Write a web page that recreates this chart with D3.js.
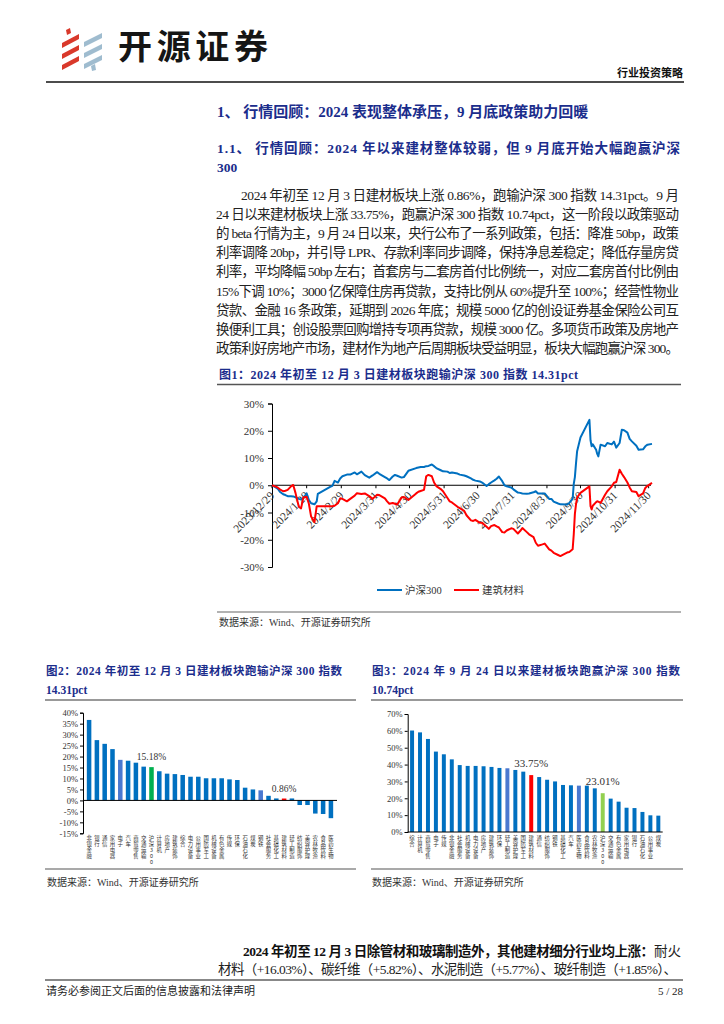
<!DOCTYPE html>
<html><head><meta charset="utf-8">
<script src="https://cdn.jsdelivr.net/npm/d3@7"></script>
<style>
html,body{margin:0;padding:0;background:#fff;}
svg{display:block;}
</style></head>
<body>
<svg id="page" width="724" height="1024"></svg>
<script>
// ---------- Figure 1 data (cumulative return since 2023-12-29, %) ----------
const dates1 = [
 "2023-12-29","2024-01-03","2024-01-05","2024-01-08","2024-01-10","2024-01-12","2024-01-15","2024-01-17","2024-01-19","2024-01-22","2024-01-24","2024-01-26","2024-01-29","2024-01-31",
 "2024-02-02","2024-02-05","2024-02-07","2024-02-08","2024-02-19","2024-02-21","2024-02-23","2024-02-26","2024-02-28",
 "2024-03-01","2024-03-05","2024-03-08","2024-03-12","2024-03-14","2024-03-18","2024-03-21","2024-03-25","2024-03-28",
 "2024-04-01","2024-04-03","2024-04-08","2024-04-10","2024-04-12","2024-04-15","2024-04-17","2024-04-19","2024-04-23","2024-04-25","2024-04-29",
 "2024-05-06","2024-05-08","2024-05-10","2024-05-13","2024-05-15","2024-05-17","2024-05-20","2024-05-22","2024-05-24","2024-05-28","2024-05-30",
 "2024-06-03","2024-06-05","2024-06-07","2024-06-12","2024-06-14","2024-06-18","2024-06-20","2024-06-24","2024-06-26","2024-06-28",
 "2024-07-02","2024-07-04","2024-07-08","2024-07-10","2024-07-12","2024-07-15","2024-07-17","2024-07-19","2024-07-22","2024-07-24","2024-07-26","2024-07-30",
 "2024-08-01","2024-08-05","2024-08-07","2024-08-09","2024-08-13","2024-08-15","2024-08-19","2024-08-21","2024-08-23","2024-08-27","2024-08-29",
 "2024-09-02","2024-09-04","2024-09-06","2024-09-10","2024-09-12","2024-09-18","2024-09-20","2024-09-23","2024-09-24","2024-09-25","2024-09-26","2024-09-27","2024-09-30",
 "2024-10-08","2024-10-09","2024-10-10","2024-10-11","2024-10-14","2024-10-15","2024-10-16","2024-10-18","2024-10-22","2024-10-24","2024-10-28","2024-10-30",
 "2024-11-01","2024-11-04","2024-11-06","2024-11-08","2024-11-11","2024-11-13","2024-11-15","2024-11-19","2024-11-21","2024-11-25","2024-11-27","2024-11-29",
 "2024-12-03"
];
const hs300 = [
 0,-1.2,-2.4,-3.3,-3.6,-4.0,-4.0,-4.1,-4.4,-5.0,-5.2,-4.8,-3.0,-5.4,
 -6.6,-7.0,-5.9,-3.2,-0.6,-0.2,1.6,1.0,2.5,
 3.3,3.9,3.9,4.7,4.0,5.0,3.7,2.8,3.6,
 4.8,4.2,3.0,2.5,1.9,3.2,3.8,3.5,2.8,3.0,5.3,
 6.3,6.5,6.7,6.7,7.0,7.1,7.6,7.0,6.3,5.5,5.1,
 5.0,4.5,4.7,4.3,3.9,3.6,3.3,2.5,2.0,1.7,
 1.4,1.0,-0.3,0.4,1.0,1.8,2.4,3.2,1.5,0.0,-0.4,-0.8,
 -1.5,-2.7,-2.8,-3.0,-3.1,-3.0,-2.6,-2.2,-3.0,-3.0,-3.0,
 -5.0,-5.0,-6.0,-6.7,-7.0,-7.1,-6.5,-5.0,0.5,3.0,8.0,12.5,17.5,
 24.0,16.5,14.3,15.0,13.0,11.5,10.6,14.9,14.3,15.5,15.0,16.0,
 13.8,15.5,20.4,20.2,19.3,17.0,16.1,14.5,13.0,13.2,14.3,14.9,
 15.18
];
const buildMat = [
 0,-0.8,-1.5,-2.2,-2.0,-1.7,-0.4,0.1,-2.8,-7.9,-8.5,-4.5,-4.2,-6.8,
 -11.5,-13.5,-7.7,-7.7,-7.7,-7.7,-7.5,-6.6,-4.8,
 -5.0,-5.9,-5.0,-3.8,-2.9,-3.2,-3.0,-4.0,-5.0,
 -3.5,-3.6,-4.8,-5.9,-6.8,-6.5,-6.8,-7.1,-4.5,-4.3,-5.4,
 -3.0,-2.4,-2.1,-1.7,3.3,3.8,3.3,1.0,-0.3,-1.4,-2.2,
 -4.7,-5.9,-6.3,-7.9,-8.4,-9.4,-11.0,-12.9,-13.1,-12.7,
 -13.8,-13.8,-15.2,-16.0,-15.0,-14.6,-15.1,-15.5,-17.2,-17.3,-16.6,-15.8,
 -16.0,-17.7,-16.8,-15.7,-17.2,-18.0,-19.0,-21.1,-22.2,-21.7,-21.4,
 -23.5,-24.0,-24.8,-25.6,-26.0,-24.7,-24.5,-23.5,-18.0,-10.5,-7.0,-4.5,-2.8,
 -0.4,-7.7,-8.9,-7.5,-6.2,-5.9,-6.0,-6.5,-3.5,-2.2,-0.4,0.9,
 1.2,5.7,4.2,3.0,1.0,-0.8,-2.2,-2.5,-4.0,-3.0,-1.0,-0.2,
 0.86
];
const seriesNames1 = ["沪深300","建筑材料"];
const yTicks1 = [30,20,10,0,-10,-20,-30];
const xTickDates1 = ["2023-12-29","2024-01-29","2024-02-29","2024-03-31","2024-04-30","2024-05-31","2024-06-30","2024-07-31","2024-08-31","2024-09-30","2024-10-31","2024-11-30"];
const xTickLabels1 = ["2023/12/29","2024/1/29","2024/2/29","2024/3/31","2024/4/30","2024/5/31","2024/6/30","2024/7/31","2024/8/31","2024/9/30","2024/10/31","2024/11/30"];

// ---------- Figure 2 data (2024 YTD to Dec 3, %) ----------
const cats2 = ["非银金融","银行","通信","家用电器","电子","汽车","商贸零售","交通运输","沪深300","计算机","房地产","建筑装饰","综合","电力设备","公用事业","国防军工","机械设备","有色金属","传媒","环保","石油石化","煤炭","钢铁","社会服务","基础化工","建筑材料","轻工制造","纺织服饰","美容护理","农林牧渔","食品饮料","医药生物"];
const vals2 = [36.7,27.5,25.8,23.4,18.5,18.1,17.2,15.4,15.18,13.3,12.2,12.0,11.6,10.8,10.8,10.1,10.1,10.1,9.6,9.3,5.8,5.0,4.6,2.1,0.9,0.86,0.9,-2.1,-2.1,-6.0,-6.2,-8.1];
const yTicks2 = [40,35,30,25,20,15,10,5,0,-5,-10,-15];
const alt2 = ["电子","钢铁"];

// ---------- Figure 3 data (since Sep 24, %) ----------
const cats3 = ["综合","计算机","商贸零售","电子","传媒","非银金融","社会服务","机械设备","电力设备","房地产","建筑装饰","环保","轻工制造","美容护理","国防军工","建筑材料","通信","纺织服饰","钢铁","基础化工","汽车","医药生物","食品饮料","农林牧渔","沪深300","交通运输","有色金属","家用电器","银行","石油石化","公用事业","煤炭"];
const vals3 = [60.2,59.1,55.2,47.7,46.1,43.1,39.7,39.2,39.2,39.0,38.6,38.0,37.8,36.8,35.8,33.75,32.6,31.0,30.0,27.9,27.7,27.5,27.5,25.9,23.01,19.8,18.0,14.4,14.2,11.9,9.9,9.7];
const yTicks3 = [70,60,50,40,30,20,10,0];
const alt3 = ["轻工制造","医药生物"];

// ---------- page text ----------
const paraLines = [
 "2024 年初至 12 月 3 日建材板块上涨 0.86%，跑输沪深 300 指数 14.31pct。9 月",
 "24 日以来建材板块上涨 33.75%，跑赢沪深 300 指数 10.74pct，这一阶段以政策驱动",
 "的 beta 行情为主，9 月 24 日以来，央行公布了一系列政策，包括：降准 50bp，政策",
 "利率调降 20bp，并引导 LPR、存款利率同步调降，保持净息差稳定；降低存量房贷",
 "利率，平均降幅 50bp 左右；首套房与二套房首付比例统一，对应二套房首付比例由",
 "15%下调 10%；3000 亿保障住房再贷款，支持比例从 60%提升至 100%；经营性物业",
 "贷款、金融 16 条政策，延期到 2026 年底；规模 5000 亿的创设证券基金保险公司互",
 "换便利工具；创设股票回购增持专项再贷款，规模 3000 亿。多项货币政策及房地产",
 "政策利好房地产市场，建材作为地产后周期板块受益明显，板块大幅跑赢沪深 300。"
];

const svg = d3.select("#page");
const SERIF = "'Liberation Serif','Noto Sans CJK SC',serif";
const SANS = "'Noto Sans CJK SC','Liberation Sans',sans-serif";
const NAVY = "#1b2d8c";
const TXT = "#222";

svg.append("rect").attr("width",724).attr("height",1024).attr("fill","#fff");

function txt(x, y, s, o = {}) {
  const t = svg.append("text").attr("x", x).attr("y", y).text(s)
    .attr("font-family", o.family || SERIF)
    .attr("font-size", o.size || 14)
    .attr("font-weight", o.weight || "normal")
    .attr("fill", o.fill || TXT)
    .attr("text-anchor", o.anchor || "start");
  if (o.len) t.attr("textLength", o.len).attr("lengthAdjust", "spacing");
  return t;
}

// ---------- header ----------
const logo = svg.append("g");
const red = "#d9392b", lblue = "#9fbccf";
[34,45,56].forEach(y=>{
  logo.append("path").attr("d",`M62,${y+9} L79,${y} L79,${y+5} L62,${y+14} Z`).attr("fill",red);
});
logo.append("path").attr("d","M66,30 L70,28 L71,33 L67,35 Z").attr("fill",red);
[33,44,55].forEach(y=>{
  logo.append("path").attr("d",`M84,${y+9} L102,${y} L102,${y+5} L84,${y+14} Z`).attr("fill",lblue);
});
logo.append("path").attr("d","M91,66 L95,64 L96,70 L92,71 Z").attr("fill",lblue);

txt(118, 59, "开源证券", {family: SANS, size: 34, weight: 700, fill: "#151515", len: 150});
txt(683, 77, "行业投资策略", {family: SANS, size: 11, weight: 700, fill: "#111", anchor: "end"});
svg.append("line").attr("x1",46).attr("x2",684).attr("y1",82).attr("y2",82).attr("stroke","#111").attr("stroke-width",1.3);

// ---------- headings & paragraph ----------
txt(217, 117, "1、 行情回顾：2024 表现整体承压，9 月底政策助力回暖", {size: 15, weight: 700, fill: NAVY});
txt(217, 153, "1.1、 行情回顾：2024 年以来建材整体较弱，但 9 月底开始大幅跑赢沪深", {size: 13.5, weight: 700, fill: NAVY, len: 463});
txt(217, 172, "300", {size: 13.5, weight: 700, fill: NAVY});

paraLines.forEach((s, i) => {
  const x0 = i === 0 ? 241 : 216;
  txt(x0, 200 + i * 19.1, s, {size: 13.5, len: 679 - x0});
});

// ---------- Figure 1 ----------
txt(219, 379, "图1：2024 年初至 12 月 3 日建材板块跑输沪深 300 指数 14.31pct", {size: 12, weight: 700, fill: NAVY, len: 359});
svg.append("line").attr("x1",217).attr("x2",681).attr("y1",384.5).attr("y2",384.5).attr("stroke","#555").attr("stroke-width",1.5);

const parse = d3.timeParse("%Y-%m-%d");
const x1 = d3.scaleTime().domain([parse(dates1[0]), parse(dates1[dates1.length-1])]).range([272, 652]);
const y1 = d3.scaleLinear().domain([-30, 30]).range([567, 403.5]);

const g1 = svg.append("g");
const yAx1 = g1.append("g").attr("transform","translate(272,0)")
  .call(d3.axisLeft(y1).tickValues(yTicks1).tickFormat(d => d + "%").tickSize(4).tickPadding(4));
yAx1.selectAll("text").attr("font-family", SERIF).attr("font-size", 11).attr("fill", "#333");
yAx1.selectAll("line,path").attr("stroke", "#000");

g1.append("line").attr("x1",272).attr("x2",651).attr("y1",y1(0)).attr("y2",y1(0)).attr("stroke","#000").attr("stroke-width",1);
xTickDates1.forEach((ds, i) => {
  const xx = x1(parse(ds));
  g1.append("line").attr("x1",xx).attr("x2",xx).attr("y1",y1(0)).attr("y2",y1(0)+3).attr("stroke","#000");
  g1.append("text").attr("transform",`translate(${xx+3},${y1(0)+11}) rotate(-45)`)
    .attr("text-anchor","end").attr("font-family",SERIF).attr("font-size",11.5).attr("fill","#333")
    .text(xTickLabels1[i]);
});

const line1 = d3.line().x(d => x1(d[0])).y(d => y1(d[1]));
const s1 = dates1.map((d,i)=>[parse(d), hs300[i]]);
const s2 = dates1.map((d,i)=>[parse(d), buildMat[i]]);
g1.append("path").datum(s1).attr("d", line1).attr("fill","none").attr("stroke","#0070C0").attr("stroke-width",2).attr("stroke-linejoin","round");
g1.append("path").datum(s2).attr("d", line1).attr("fill","none").attr("stroke","#FF0000").attr("stroke-width",2).attr("stroke-linejoin","round");

// legend
[[377, "#0070C0", seriesNames1[0]], [454, "#FF0000", seriesNames1[1]]].forEach(([lx, c, name]) => {
  g1.append("line").attr("x1",lx).attr("x2",lx+25).attr("y1",590).attr("y2",590).attr("stroke",c).attr("stroke-width",2);
  g1.append("text").attr("x",lx+28).attr("y",594).attr("font-family",SERIF).attr("font-size",10.5).attr("fill","#333").text(name);
});

svg.append("line").attr("x1",217).attr("x2",681).attr("y1",612).attr("y2",612).attr("stroke","#666").attr("stroke-width",1.2);
txt(219, 626, "数据来源：Wind、开源证券研究所", {size: 10, fill: "#333"});

// ---------- bar charts ----------
function barChart(cfg) {
  const g = svg.append("g");
  const x = d3.scaleBand().domain(cfg.cats).range([cfg.x0, cfg.x1]).paddingInner(cfg.pi).paddingOuter(cfg.po);
  const y = d3.scaleLinear().domain(cfg.ydom).range(cfg.yrange);
  const ax = g.append("g").attr("transform",`translate(${cfg.x0},0)`)
    .call(d3.axisLeft(y).tickValues(cfg.ticks).tickFormat(d => d + "%").tickSize(3).tickPadding(2));
  ax.selectAll("text").attr("font-family", SERIF).attr("font-size", 8.5).attr("fill", "#333");
  ax.selectAll("line,path").attr("stroke", "#000");
  g.selectAll("rect.bar").data(cfg.cats).enter().append("rect")
    .attr("x", d => x(d)).attr("width", x.bandwidth())
    .attr("y", (d,i) => y(Math.max(0, cfg.vals[i])))
    .attr("height", (d,i) => Math.abs(y(cfg.vals[i]) - y(0)))
    .attr("fill", d => d === "沪深300" ? cfg.hsColor : d === "建筑材料" ? "#FF0000" : cfg.alt.includes(d) ? "#4A78D0" : "#0070C0");
  g.append("line").attr("x1",cfg.x0).attr("x2",cfg.x1).attr("y1",y(0)).attr("y2",y(0)).attr("stroke","#000");
  // stacked (one character per row) category labels
  cfg.cats.forEach(c => {
    const parts = c === "沪深300" ? ["沪","深","3","0","0"] : Array.from(c);
    const t = g.append("text").attr("font-family", SANS).attr("font-size", 5.4).attr("fill","#333").attr("text-anchor","middle");
    parts.forEach((ch, k) => {
      t.append("tspan").attr("x", x(c) + x.bandwidth()/2).attr("y", cfg.labY + k*6.0).text(ch);
    });
  });
  cfg.notes.forEach(([cat, label]) => {
    const i = cfg.cats.indexOf(cat);
    g.append("text").attr("x", x(cat) + x.bandwidth()/2).attr("y", y(cfg.vals[i]) - cfg.noteGap)
      .attr("text-anchor","middle").attr("font-family",SERIF).attr("font-size",cfg.noteSize).attr("fill","#333").text(label);
  });
}

txt(46, 675, "图2：2024 年初至 12 月 3 日建材板块跑输沪深 300 指数", {size: 11.5, weight: 700, fill: NAVY, len: 296});
txt(46, 694, "14.31pct", {size: 11.5, weight: 700, fill: NAVY});
txt(372, 675, "图3：2024 年 9 月 24 日以来建材板块跑赢沪深 300 指数", {size: 11.5, weight: 700, fill: NAVY, len: 308});
txt(372, 694, "10.74pct", {size: 11.5, weight: 700, fill: NAVY});
svg.append("line").attr("x1",45).attr("x2",356).attr("y1",700).attr("y2",700).attr("stroke","#777").attr("stroke-width",1.5);
svg.append("line").attr("x1",371).attr("x2",683).attr("y1",700).attr("y2",700).attr("stroke","#777").attr("stroke-width",1.5);

barChart({cats: cats2, vals: vals2, ticks: yTicks2, alt: alt2, hsColor: "#00B050",
  x0: 83, x1: 337, pi: 0.42, po: 0.49, ydom: [-15, 40], yrange: [833.3, 712.7], labY: 840,
  notes: [["沪深300","15.18%"],["建筑材料","0.86%"]], noteGap: 7, noteSize: 9.5});
barChart({cats: cats3, vals: vals3, ticks: yTicks3, alt: alt3, hsColor: "#92D050",
  x0: 407.7, x1: 662.7, pi: 0.5, po: 0.3, ydom: [0, 70], yrange: [832, 714], labY: 840,
  notes: [["建筑材料","33.75%"],["沪深300","23.01%"]], noteGap: 8, noteSize: 11});

svg.append("line").attr("x1",45).attr("x2",356).attr("y1",869).attr("y2",869).attr("stroke","#555").attr("stroke-width",1.2);
svg.append("line").attr("x1",371).attr("x2",683).attr("y1",869).attr("y2",869).attr("stroke","#555").attr("stroke-width",1.2);
txt(47, 886, "数据来源：Wind、开源证券研究所", {size: 10, fill: "#333"});
txt(372, 886, "数据来源：Wind、开源证券研究所", {size: 10, fill: "#333"});

// ---------- closing paragraph & footer ----------
txt(243, 956, "2024 年初至 12 月 3 日除管材和玻璃制造外，其他建材细分行业均上涨：", {size: 13.5, weight: 700, fill: "#111", len: 411});
txt(654, 956, "耐火", {size: 13.5});
txt(218, 974, "材料（+16.03%）、碳纤维（+5.82%）、水泥制造（+5.77%）、玻纤制造（+1.85%）、", {size: 13.5, len: 459});
svg.append("line").attr("x1",45).attr("x2",683).attr("y1",980).attr("y2",980).attr("stroke","#888").attr("stroke-width",2);
txt(46, 995, "请务必参阅正文后面的信息披露和法律声明", {size: 11, fill: "#222"});
txt(683, 995, "5 / 28", {size: 11, fill: "#222", anchor: "end"});
</script>
</body></html>
